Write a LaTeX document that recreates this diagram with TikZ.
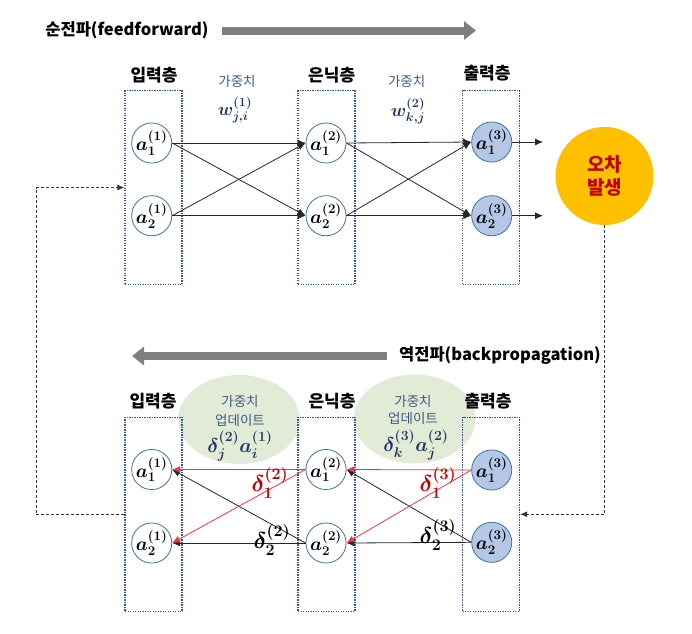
\RequirePackage{fix-cm}
\documentclass[tikz,border=0pt]{standalone}
\usepackage{fontspec}
\usepackage{amsmath,bm}
\usetikzlibrary{arrows.meta,shapes.geometric}
\newfontfamily\kr{Noto Sans CJK KR}
\definecolor{nodeblue}{HTML}{41719C}
\definecolor{outfill}{HTML}{B4C7E7}
\definecolor{boxblue}{HTML}{2F5597}
\definecolor{wtxt}{HTML}{3F5B85}
\definecolor{navy}{HTML}{1F3864}
\definecolor{redline}{HTML}{E8393F}
\definecolor{redtxt}{HTML}{C00000}
\definecolor{gfill}{HTML}{E2EBD5}
\definecolor{errfill}{HTML}{FFC000}
\definecolor{garrow}{HTML}{7F7F7F}
\begin{document}
\begin{tikzpicture}[x=1pt,y=-1pt,
  neuron/.style={circle, draw=nodeblue, line width=0.8pt, fill=white, minimum size=33pt, inner sep=0pt, font=\fontsize{19}{21}\selectfont},
  outneuron/.style={neuron, fill=outfill},
  layerbox/.style={draw=boxblue, line width=1.3pt, dash pattern=on 1.3pt off 1.2pt, minimum width=57pt, minimum height=194pt, inner sep=0pt},
  layerlbl/.style={font=\kr\bfseries\fontsize{17}{19}\selectfont},
  wlbl/.style={font=\kr\fontsize{13.5}{15}\selectfont, text=wtxt},
  wmath/.style={font=\fontsize{18}{20}\selectfont, text=navy},
  umath/.style={font=\fontsize{20}{22}\selectfont, text=navy},
  dlbl/.style={font=\fontsize{23}{25}\selectfont},
  title/.style={font=\kr\bfseries\fontsize{16.5}{18}\selectfont},
  bigarrow/.style={draw=garrow, line width=8pt, -{Triangle[length=12pt,width=18pt]}},
  edge/.style={draw=black!85, line width=0.8pt, -{Latex[length=8pt,width=7pt]}},
  redge/.style={draw=redline, line width=0.8pt, -{Latex[length=8pt,width=7pt]}},
  dashline/.style={draw=black!80, line width=0.8pt, dash pattern=on 3pt off 2pt, -{Latex[length=7pt,width=6pt]}},
  gcloud/.style={ellipse, fill=gfill, minimum width=122pt, minimum height=89pt, inner sep=0pt}
]
\useasboundingbox (0,0) rectangle (692,633);

% ---------- titles and big arrows ----------
\node[title] (fftxt) at (127,30.5) {순전파(feedforward)};
\coordinate (ffs) at (221.7,30.5);
\coordinate (ffe) at (476,30.5);
\draw[bigarrow] (ffs) -- (ffe);

\node[title] (bptxt) at (500,356) {역전파(backpropagation)};
\coordinate (bps) at (386.7,356);
\coordinate (bpe) at (132,356);
\draw[bigarrow] (bps) -- (bpe);

% ---------- green clouds (bottom) ----------
\node[gcloud] (g1) at (239,419.5) {};
\node[gcloud] (g2) at (414.5,419) {};

% ---------- layer boxes ----------
\node[layerbox] (it) at (153.5,187.5) {};
\node[layerbox] (ht) at (326.5,187.5) {};
\node[layerbox] (ot) at (491,187.5) {};
\node[layerbox] (ib) at (153.5,514.25) {};
\node[layerbox] (hb) at (326.5,514.25) {};
\node[layerbox] (ob) at (491,514.25) {};

% ---------- layer labels ----------
\node[layerlbl] (lt1) at (154,75) {입력층};
\node[layerlbl] (lt2) at (331.7,75) {은닉층};
\node[layerlbl] (lt3) at (487,73.5) {출력층};
\node[layerlbl] (lb1) at (153,401.5) {입력층};
\node[layerlbl] (lb2) at (332,401.5) {은닉층};
\node[layerlbl] (lb3) at (488,400.7) {출력층};

% ---------- weight labels (top) ----------
\node[wlbl] (w1t) at (237,81.7) {가중치};
\node[wmath] (w1m) at (235,110) {$\bm{w}^{\bm{(1)}}_{\bm{j,i}}$};
\node[wlbl] (w2t) at (406.7,81.7) {가중치};
\node[wmath] (w2m) at (408,111) {$\bm{w}^{\bm{(2)}}_{\bm{k,j}}$};

% ---------- update labels (bottom) ----------
\node[wlbl] (u1a) at (240,401.7) {가중치};
\node[wlbl] (u1b) at (240,420) {업데이트};
\node[umath] (u1c) at (240,446) {$\bm{\delta}^{\bm{(2)}}_{\bm{j}}\bm{a}^{\bm{(1)}}_{\bm{i}}$};
\node[wlbl] (u2a) at (413,401.7) {가중치};
\node[wlbl] (u2b) at (413,418.5) {업데이트};
\node[umath] (u2c) at (416,445) {$\bm{\delta}^{\bm{(3)}}_{\bm{k}}\bm{a}^{\bm{(2)}}_{\bm{j}}$};

% ---------- top network ----------
\node[neuron] (i1) at (151.7,143) {$\bm{a}^{\bm{(1)}}_{\bm{1}}$};
\node[neuron] (i2) at (151.7,215.7) {$\bm{a}^{\bm{(1)}}_{\bm{2}}$};
\node[neuron] (h1) at (326,143) {$\bm{a}^{\bm{(2)}}_{\bm{1}}$};
\node[neuron] (h2) at (326,215.7) {$\bm{a}^{\bm{(2)}}_{\bm{2}}$};
\node[outneuron] (o1) at (491.7,142) {$\bm{a}^{\bm{(3)}}_{\bm{1}}$};
\node[outneuron] (o2) at (491.7,215.7) {$\bm{a}^{\bm{(3)}}_{\bm{2}}$};

\draw[edge] (i1.east) -- (h1.west);
\draw[edge] (i1.east) -- (h2.west);
\draw[edge] (i2.east) -- (h1.west);
\draw[edge] (i2.east) -- (h2.west);
\draw[edge] (h1.east) -- (o1.west);
\draw[edge] (h1.east) -- (o2.west);
\draw[edge] (h2.east) -- (o1.west);
\draw[edge] (h2.east) -- (o2.west);
\coordinate (oe1) at (543,142);
\coordinate (oe2) at (543,215.7);
\draw[edge] (o1.east) -- (oe1);
\draw[edge] (o2.east) -- (oe2);

% ---------- error circle ----------
\node[circle, fill=errfill, minimum size=98pt, inner sep=0pt, align=center,
      font=\kr\bfseries\fontsize{19}{23}\selectfont, text=redtxt] (err) at (604.5,176) {오차\\발생};

% ---------- bottom network ----------
\node[neuron] (bi1) at (151.7,469.5) {$\bm{a}^{\bm{(1)}}_{\bm{1}}$};
\node[neuron] (bi2) at (151.7,543) {$\bm{a}^{\bm{(1)}}_{\bm{2}}$};
\node[neuron] (bh1) at (326,469.5) {$\bm{a}^{\bm{(2)}}_{\bm{1}}$};
\node[neuron] (bh2) at (326,543) {$\bm{a}^{\bm{(2)}}_{\bm{2}}$};
\node[outneuron] (bo1) at (491.7,470) {$\bm{a}^{\bm{(3)}}_{\bm{1}}$};
\node[outneuron] (bo2) at (491.7,542.3) {$\bm{a}^{\bm{(3)}}_{\bm{2}}$};

\draw[edge] (bh2.west) -- (bi1.east);
\draw[edge] (bh2.west) -- (bi2.east);
\draw[redge] (bh1.west) -- (bi1.east);
\draw[redge] (bh1.west) -- (bi2.east);
\draw[edge] (bo2.west) -- (bh1.east);
\draw[edge] (bo2.west) -- (bh2.east);
\draw[redge] (bo1.west) -- (bh1.east);
\draw[redge] (bo1.west) -- (bh2.east);

\node[dlbl, text=redtxt] (d12) at (270,483) {$\bm{\delta}^{\bm{(2)}}_{\bm{1}}$};
\node[dlbl] (d22) at (272,540) {$\bm{\delta}^{\bm{(2)}}_{\bm{2}}$};
\node[dlbl, text=redtxt] (d13) at (438,483) {$\bm{\delta}^{\bm{(3)}}_{\bm{1}}$};
\node[dlbl] (d23) at (438,535) {$\bm{\delta}^{\bm{(3)}}_{\bm{2}}$};

% ---------- dashed feedback ----------
\draw[dashline] (err.south) |- (ob.east);
\coordinate (lc) at (36,514.25);
\draw[dashline] (ib.west) -- (lc) |- (it.west);
\end{tikzpicture}
\end{document}
